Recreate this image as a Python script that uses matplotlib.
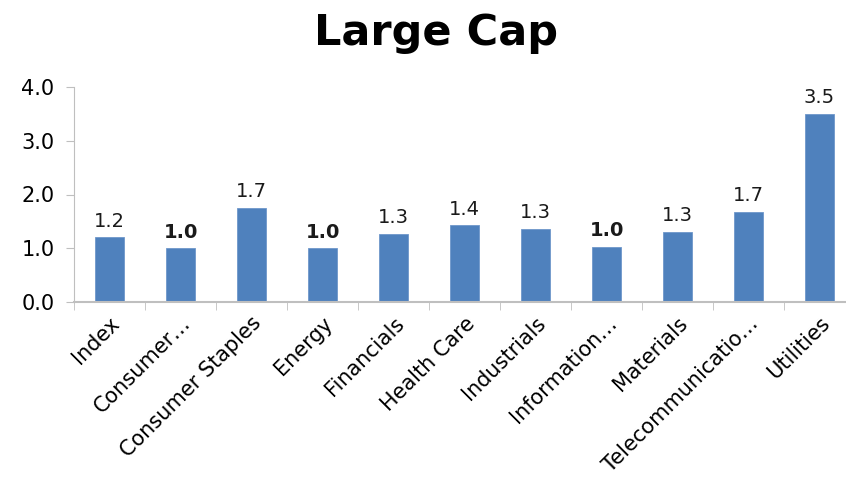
import numpy as np
import matplotlib.pyplot as plt

# sector values
categories = ['Index', 'Consumer…', 'Consumer Staples', 'Energy', 'Financials',
              'Health Care', 'Industrials', 'Information…', 'Materials',
              'Telecommunicatio…', 'Utilities']
values = [1.21, 1.0, 1.75, 1.0, 1.27, 1.43, 1.36, 1.03, 1.31, 1.68, 3.5]
labels = ['1.2', '1.0', '1.7', '1.0', '1.3', '1.4', '1.3', '1.0', '1.3', '1.7', '3.5']
bold_labels = [False, True, False, True, False, False, False, True, False, False, False]

bar_color = '#4F81BD'
axis_color = '#BFBFBF'

fig = plt.figure(figsize=(8.46, 4.91), dpi=100)
ax = fig.add_axes([74/846, (491-302)/491, 781/846, (302-87)/491])

x = np.arange(len(categories))
ax.bar(x, values, width=0.4, color=bar_color, edgecolor='#6E97CB', linewidth=0.6)

# value labels above the bars
for xi, v, lab, b in zip(x, values, labels, bold_labels):
    ax.text(xi, v + 0.12, lab, ha='center', va='bottom', fontsize=14,
            fontweight='bold' if b else 'normal', color='#1a1a1a')

ax.set_xlim(-0.5, len(categories) - 0.5)
ax.set_ylim(0, 4)
ax.set_yticks([0, 1, 2, 3, 4])
ax.set_yticklabels(['0.0', '1.0', '2.0', '3.0', '4.0'], fontsize=15)

# category labels rotated, tick marks between categories
ax.set_xticks(x)
ax.set_xticklabels(categories, rotation=45, ha='right', va='top',
                   rotation_mode='anchor', fontsize=15)
ax.tick_params(axis='x', length=0, pad=8)
ax.set_xticks(np.arange(-0.5, len(categories), 1), minor=True)
ax.tick_params(axis='x', which='minor', length=6, color=axis_color, direction='out')
ax.tick_params(axis='y', length=6, color=axis_color, direction='out', pad=8)

for s in ['top', 'right']:
    ax.spines[s].set_visible(False)
ax.spines['left'].set_color(axis_color)
ax.spines['bottom'].set_color(axis_color)
ax.spines['bottom'].set_linewidth(1.5)

fig.text(0.515, 0.975, 'Large Cap', ha='center', va='top', fontsize=31, fontweight='bold')

fig.savefig('out.png', dpi=100)
